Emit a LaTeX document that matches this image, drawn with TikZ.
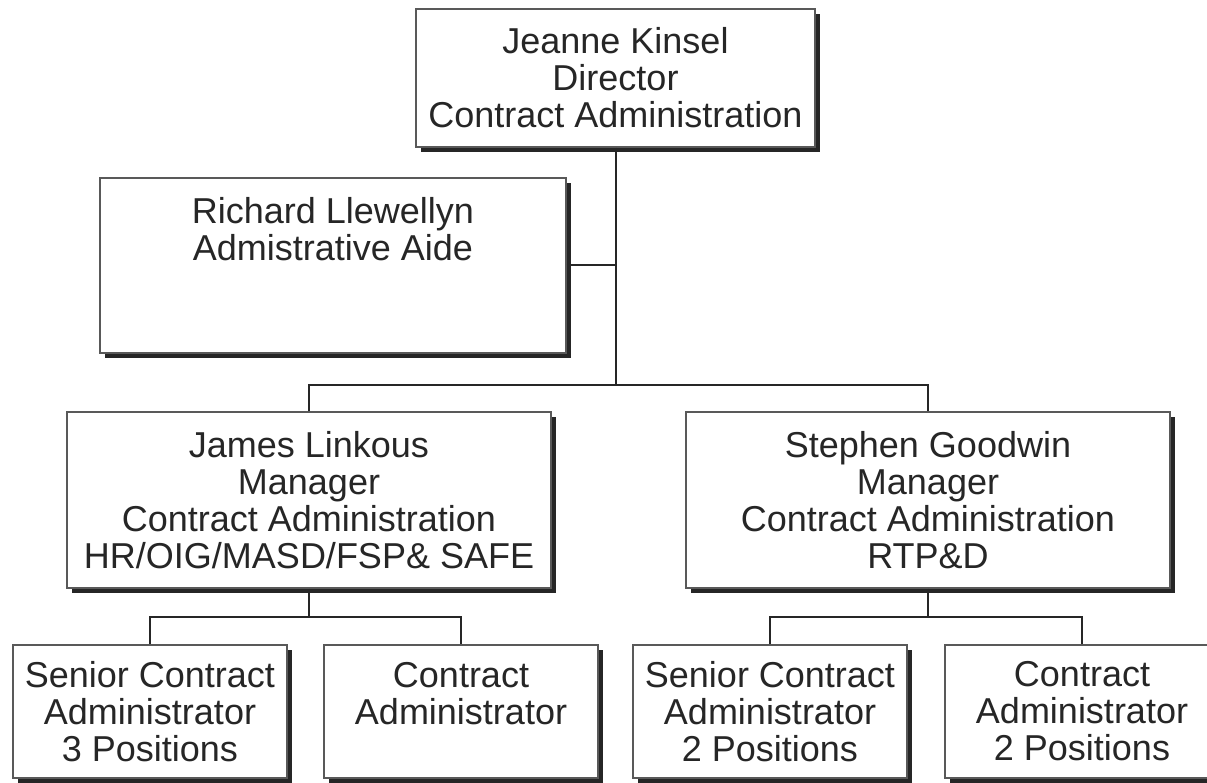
\documentclass[tikz,border=0pt]{standalone}
\usepackage{fontspec}
\setmainfont{Liberation Sans}
\usepackage{tikz}
\usetikzlibrary{shadows}
\tikzset{
  org_box/.style={rectangle, draw=black!65, line width=1.2pt, fill=white, text=black!85, align=center, inner sep=0pt, font=\fontsize{36}{37}\selectfont, drop shadow={shadow xshift=5pt, shadow yshift=-5pt, fill=black!85, opacity=1}},
  head_box/.style={org_box, minimum width=399pt, minimum height=138pt},
  aide_box/.style={org_box, minimum width=466pt, minimum height=175pt},
  mgr_box/.style={org_box, minimum width=484pt, minimum height=176pt},
  staff_box/.style={org_box, minimum width=274pt, minimum height=133pt},
  link/.style={-, line width=2pt, black!85}
}

\begin{document}
\begin{tikzpicture}[x=1pt, y=-1pt]
  \useasboundingbox (0,0) rectangle (1207,783);

  % connector joints
  \coordinate (split) at (615.5,385);
  \coordinate (jl_split) at (309,617);
  \coordinate (sg_split) at (928,617);

  \node[head_box](director) at (615.5,78) {Jeanne Kinsel\\Director\\Contract Administration};
  \node[aide_box](aide) at (333,265.5) {Richard Llewellyn\\Admistrative Aide\\~\\~};
  \node[mgr_box](linkous) at (309,500) {James Linkous\\Manager\\Contract Administration\\HR/OIG/MASD/FSP\& SAFE};
  \node[mgr_box](goodwin) at (928,500) {Stephen Goodwin\\Manager\\Contract Administration\\RTP\&D};

  \node[staff_box](senior_a) at (150,711.5) {Senior Contract\\Administrator\\3 Positions};
  \node[staff_box](admin_a) at (461,711.5) {Contract\\Administrator\\~};
  \node[staff_box](senior_b) at (770,711.5) {Senior Contract\\Administrator\\2 Positions};
  \node[staff_box](admin_b) at (1082,711.5) {Contract\\Administrator\\2 Positions};

  \draw[link] (director.south) -- (split);
  \draw[link] (aide.east) -- (aide.east -| split);
  \draw[link] (linkous.north) |- (split) -| (goodwin.north);

  \draw[link] (linkous.south) -- (jl_split);
  \draw[link] (senior_a.north) |- (jl_split) -| (admin_a.north);
  \draw[link] (goodwin.south) -- (sg_split);
  \draw[link] (senior_b.north) |- (sg_split) -| (admin_b.north);
\end{tikzpicture}
\end{document}
